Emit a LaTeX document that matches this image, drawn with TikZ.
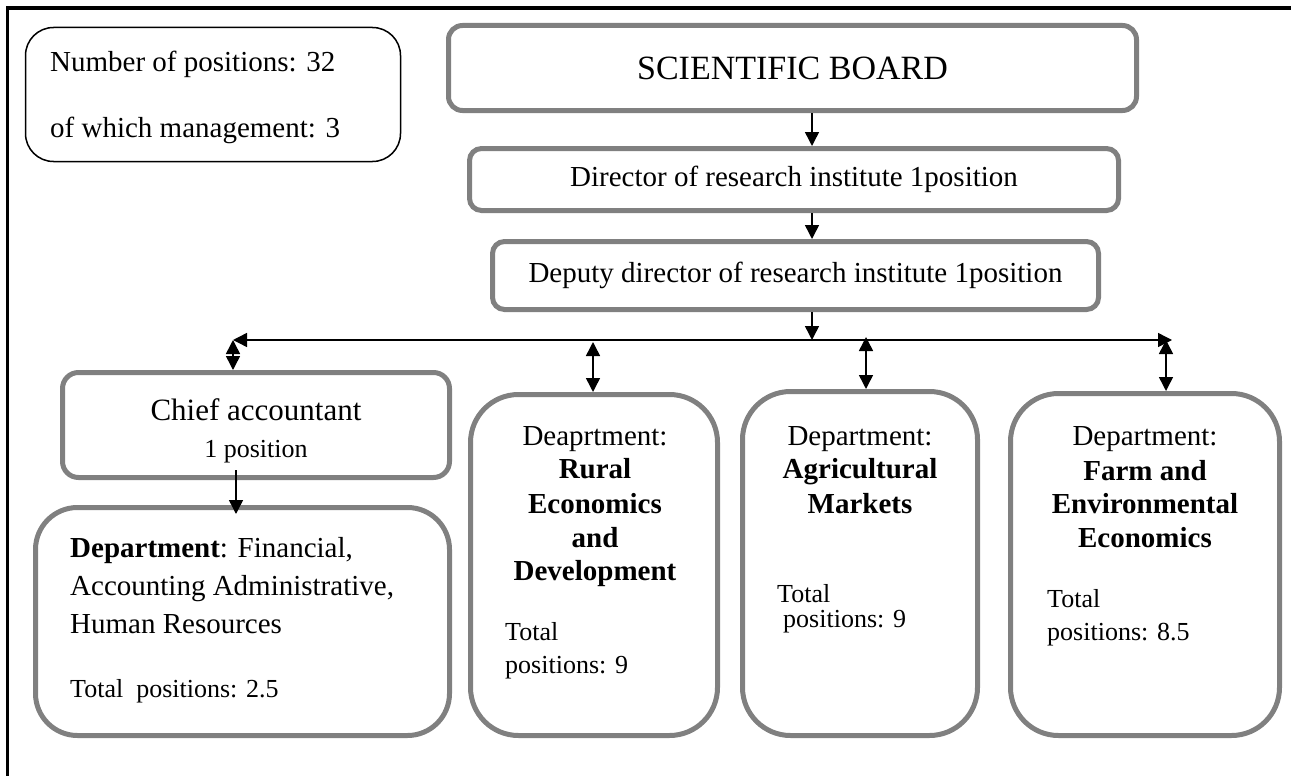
\documentclass[tikz,border=0pt]{standalone}
\usepackage{fontspec}
\setmainfont{Liberation Serif}
\usetikzlibrary{arrows.meta}
\definecolor{bx}{HTML}{808080}
\begin{document}
\begin{tikzpicture}[x=1pt,y=-1pt,
  gbox/.style={draw=bx,line width=5pt,inner sep=0pt},
  tc/.style={inner sep=0pt,anchor=base},
  tl/.style={inner sep=0pt,anchor=base west},
  fA/.style={font=\fontsize{29}{34}\selectfont},
  fB/.style={font=\fontsize{26}{30}\selectfont},
  fS/.style={font=\fontsize{34}{40}\selectfont},
  fC/.style={font=\fontsize{31}{36}\selectfont},
  fAb/.style={font=\fontsize{29}{34}\selectfont\bfseries},
  arr/.style={line width=1.5pt,-{Triangle[width=14pt,length=14pt]}},
  darr/.style={line width=1.5pt,{Triangle[width=14pt,length=14pt]}-{Triangle[width=14pt,length=14pt]}},
  hline/.style={line width=1.4pt,{Triangle[width=14pt,length=14pt]}-{Triangle[width=14pt,length=14pt]}}
]
\useasboundingbox (0,0) rectangle (1291,776);
% partial frame
\draw[line width=2.5pt] (7.5,776) -- (7.5,8);
\draw[line width=3.5pt] (6.25,8) -- (1291,8);

% info box
\node[draw=black,line width=1.5pt,rounded corners=28pt,minimum width=375pt,minimum height=134pt,inner sep=0pt] (info) at (213,94.5) {};
\node[tl,fA] (info1) at (50,71) {Number of positions: 32};
\node[tl,fA] (info2) at (50,137) {of which management: 3};

% top chain
\node[gbox,rounded corners=14pt,minimum width=688pt,minimum height=85pt] (sb) at (792.5,68) {};
\node[fS,inner sep=0pt] (sbt) at (sb) {SCIENTIFIC BOARD};
\node[gbox,rounded corners=12pt,minimum width=649pt,minimum height=62pt] (dir) at (794,179.5) {};
\node[fA,inner sep=0pt] (dirt) at (dir) {Director of research institute 1position};
\node[gbox,rounded corners=12pt,minimum width=606pt,minimum height=68pt] (dep) at (795.5,275.5) {};
\node[fA,inner sep=0pt] (dept) at (dep) {Deputy director of research institute 1position};

% lower boxes
\node[gbox,rounded corners=16pt,minimum width=387pt,minimum height=105pt] (chief) at (256,425) {};
\node[gbox,rounded corners=42pt,minimum width=414pt,minimum height=228pt] (fin) at (242.5,621.5) {};
\node[gbox,rounded corners=48pt,minimum width=247pt,minimum height=341pt] (rural) at (594,565) {};
\node[gbox,rounded corners=48pt,minimum width=235pt,minimum height=344pt] (agri) at (860,563.5) {};
\node[gbox,rounded corners=48pt,minimum width=269pt,minimum height=342pt] (farm) at (1145,564.5) {};

% connectors
\coordinate (ax) at (812,0);
\coordinate (hL) at (233,340);
\coordinate (hR) at (1172,340);
\coordinate (hM) at (812,340);
\coordinate (rT) at (593,342);
\coordinate (aT) at (866,337);
\coordinate (fT) at (1166,340);
\draw[arr] (sb.south -| ax) -- (dir.north -| ax);
\draw[arr] (dir.south -| ax) -- (dep.north -| ax);
\draw[arr] (dep.south -| ax) -- (hM);
\draw[hline] (hL) -- (hR);
\draw[darr] (hL) -- (hL |- chief.north);
\draw[darr] (rT) -- (rT |- rural.north);
\draw[darr] (aT) -- (aT |- agri.north);
\draw[darr] (fT) -- (fT |- farm.north);
\draw[arr] ([xshift=-20pt,yshift=10pt]chief.south) -- ([xshift=-6.5pt,yshift=-9pt]fin.north);

% chief text
\node[tc,fC] (ch1) at (256,420) {Chief accountant};
\node[tc,fB] (ch2) at (256,457) {1 position};

% financial dept text
\node[tl,fA] (fi1) at (70,557) {\textbf{Department}: Financial,};
\node[tl,fA] (fi2) at (70,595) {Accounting Administrative,};
\node[tl,fA] (fi3) at (70,633) {Human Resources};
\node[tl,fB] (fi4) at (70,697) {Total\ \ positions: 2.5};

% rural text
\node[tc,fA] (ru1) at (595,445) {Deaprtment:};
\node[tc,fAb] (ru2) at (595,478) {Rural};
\node[tc,fAb] (ru3) at (595,513) {Economics};
\node[tc,fAb] (ru4) at (595,547) {and};
\node[tc,fAb] (ru5) at (595,580) {Development};
\node[tl,fB] (ru6) at (505,640) {Total};
\node[tl,fB] (ru7) at (505,673) {positions: 9};

% agri text
\node[tc,fA] (ag1) at (860,445) {Department:};
\node[tc,fAb] (ag2) at (860,478) {Agricultural};
\node[tc,fAb] (ag3) at (860,513) {Markets};
\node[tl,fB] (ag4) at (777,602) {Total};
\node[tl,fB] (ag5) at (783,627) {positions: 9};

% farm text
\node[tc,fA] (fa1) at (1145,445) {Department:};
\node[tc,fAb] (fa2) at (1145,480) {Farm and};
\node[tc,fAb] (fa3) at (1145,513) {Environmental};
\node[tc,fAb] (fa4) at (1145,547) {Economics};
\node[tl,fB] (fa5) at (1047,607) {Total};
\node[tl,fB] (fa6) at (1047,640) {positions: 8.5};
\end{tikzpicture}
\end{document}
